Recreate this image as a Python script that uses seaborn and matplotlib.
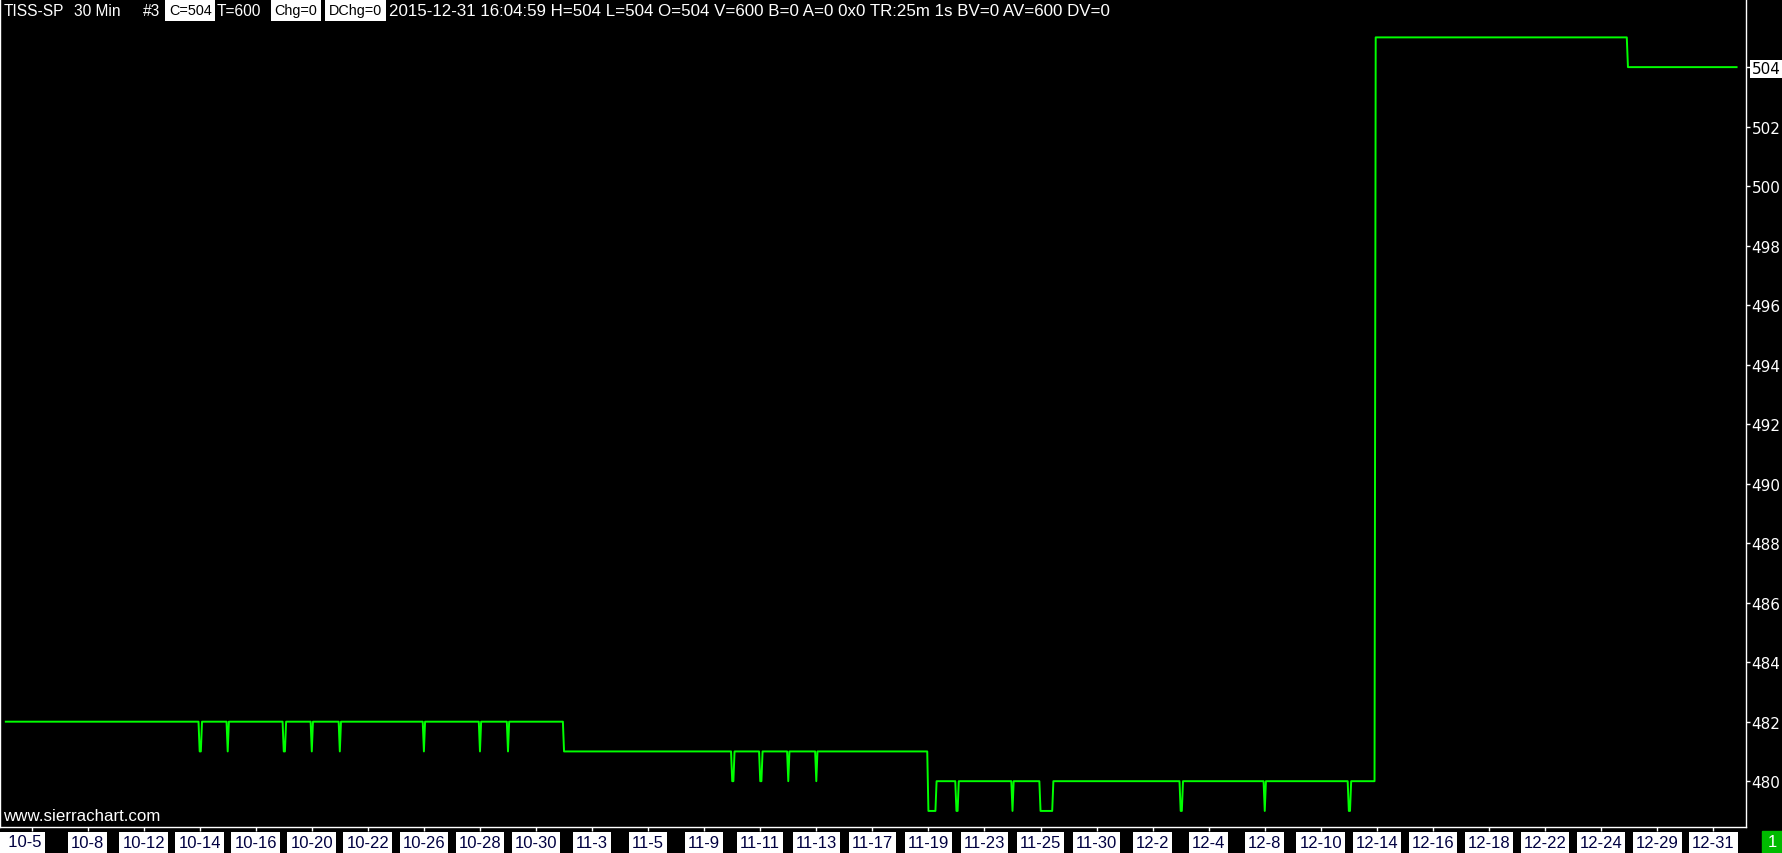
import numpy as np
import pandas as pd
import seaborn as sns
import matplotlib
matplotlib.use("Agg")
import matplotlib.pyplot as plt

# === dados: fechamentos de barras de 30 min (TISS-SP), em sequências ===
bars_per_session = 24
start_session = -1      # sessão antes de 10-5
first_bar = 2           # barra onde começa o gráfico

run_price = [482, 481, 482, 481, 482, 481, 482, 481, 482, 481,
             482, 481, 482, 481, 482, 481, 482, 481, 480, 481,
             480, 481, 480, 481, 480, 481, 479, 480, 479, 480,
             479, 480, 479, 480, 479, 480, 479, 480, 479, 480,
             505, 504]
run_bars = [166, 2, 22, 1, 47, 2, 22, 1, 23, 1,
            71, 1, 47, 1, 23, 1, 47, 144, 2, 22,
            2, 22, 1, 23, 1, 95, 7, 17, 2, 46,
            1, 23, 11, 109, 2, 70, 1, 71, 2, 21,
            216, 94]

date_labels = ['10-5', '10-8', '10-12', '10-14', '10-16', '10-20', '10-22', '10-26',
               '10-28', '10-30', '11-3', '11-5', '11-9', '11-11', '11-13', '11-17',
               '11-19', '11-23', '11-25', '11-30', '12-2', '12-4', '12-8', '12-10',
               '12-14', '12-16', '12-18', '12-22', '12-24', '12-29', '12-31']
label_sessions = list(range(0, 61, 2))
price_ticks = [480, 482, 484, 486, 488, 490, 492, 494, 496, 498, 500, 502, 504]
last_price = 504

closes = np.repeat(run_price, run_bars)
bar_idx = first_bar + np.arange(len(closes))
df = pd.DataFrame({"sessao": start_session + bar_idx / bars_per_session,
                   "fechamento": closes})

# === figura ===
W, H = 1783, 854
fig = plt.figure(figsize=(W / 100, H / 100), dpi=100, facecolor="black")
ax = fig.add_axes([0, 1 - 828 / H, 1746 / W, 828 / H])
ax.set_facecolor("black")

sns.lineplot(data=df, x="sessao", y="fechamento", color="#00ff00",
             linewidth=1.4, estimator=None, sort=False, ax=ax)

ax.set_xlim(-1.124, 61.17)
ax.set_ylim(478.46, 506.29)
ax.set_xlabel("")
ax.set_ylabel("")
ax.grid(False)

for s in ["left", "right", "bottom"]:
    ax.spines[s].set_color("white")
    ax.spines[s].set_linewidth(1)
ax.spines["top"].set_visible(False)

# eixo de preço à direita
ax.yaxis.tick_right()
ax.set_yticks(price_ticks, [str(v) for v in price_ticks])
ax.tick_params(axis="y", colors="white", length=3, width=1, pad=1, labelsize=11)
for lbl in ax.get_yticklabels():
    lbl.set_family("DejaVu Sans")
    if lbl.get_text() == str(last_price):
        lbl.set_color("black")
        lbl.set_bbox(dict(facecolor="white", edgecolor="none", pad=1))

# eixo de datas
tick_text = [""] + date_labels[1:]
ax.set_xticks(label_sessions, tick_text)
ax.tick_params(axis="x", colors="white", length=3, width=1, pad=2.5, labelsize=12)
for lbl in ax.get_xticklabels():
    lbl.set_color("#000040")
    lbl.set_family("Liberation Sans")
    lbl.set_bbox(dict(facecolor="white", edgecolor="none", pad=2.2))
ax.annotate("  " + date_labels[0], xy=(label_sessions[0], 0),
            xycoords=("data", "axes fraction"), xytext=(10, -15),
            textcoords="offset pixels", ha="right", va="center",
            fontsize=12, color="#000040", family="Liberation Sans",
            bbox=dict(facecolor="white", edgecolor="none", pad=2.2),
            annotation_clip=False)

# cabeçalho
def px(x, y):
    return x / W, 1 - y / H

plain = dict(fontsize=11.2, family="Liberation Sans", va="center", color="white")
boxed = dict(fontsize=10.4, family="Liberation Sans", va="center", color="black",
             bbox=dict(facecolor="white", edgecolor="none", pad=2.6))

fig.text(*px(3.4, 11), "TISS-SP", **plain)
fig.text(*px(74, 11), "30 Min", **plain)
fig.text(*px(143, 11), "#3", **plain)
fig.text(*px(169, 11), "C=504", **boxed)
fig.text(*px(217, 11), "T=600", **plain)
fig.text(*px(274.5, 11), "Chg=0", **boxed)
fig.text(*px(329, 11), "DChg=0", **boxed)
fig.text(*px(389, 11), "2015-12-31 16:04:59 H=504 L=504 O=504 V=600 B=0 A=0 0x0 "
         "TR:25m 1s BV=0 AV=600 DV=0", fontsize=12.2, family="Liberation Sans",
         va="center", color="white")

fig.text(*px(3, 817), "www.sierrachart.com", fontsize=12.2, family="Liberation Sans",
         va="center", color="white",
         bbox=dict(facecolor="black", edgecolor="none", pad=1))

# contador no canto inferior direito
fig.patches.append(plt.Rectangle((1762 / W, 0), 21 / W, 22 / H,
                                 transform=fig.transFigure, color="#00bb00"))
fig.text(*px(1772, 843), "1", color="white", ha="center", va="center",
         fontsize=12, family="Liberation Sans")

plt.savefig("out.png", dpi=100, facecolor="black")
